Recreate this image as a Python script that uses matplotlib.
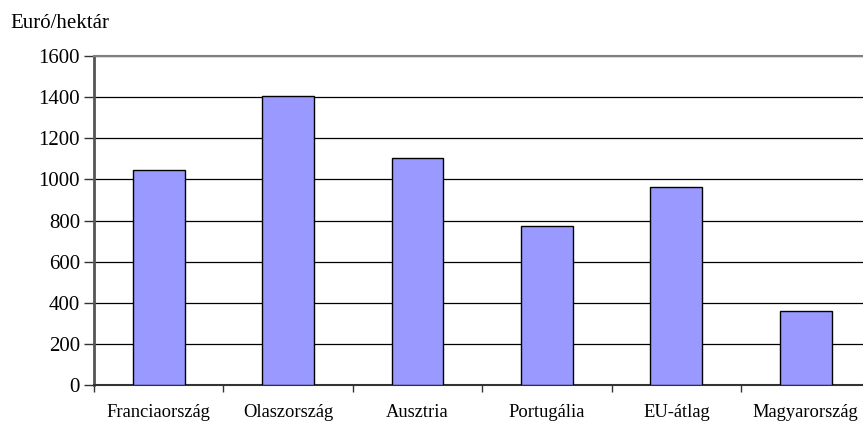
import matplotlib
matplotlib.use("Agg")
import matplotlib.pyplot as plt
import numpy as np

categories = ["Franciaország", "Olaszország", "Ausztria", "Portugália", "EU-átlag", "Magyarország"]
values = [1045, 1405, 1105, 772, 962, 362]
yticks = [0, 200, 400, 600, 800, 1000, 1200, 1400, 1600]
ylabel = "Euró/hektár"

plt.rcParams['font.family'] = ['Liberation Serif', 'DejaVu Serif']

W, H = 863, 421
fig = plt.figure(figsize=(W / 100, H / 100), dpi=100)
left, bottom, top = 94, 385, 56
cat_w = 129.4
ax = fig.add_axes([left / W, (H - bottom) / H, 6 * cat_w / W, (bottom - top) / H])

x = np.arange(len(categories))
ax.bar(x, values, width=0.4, color="#9999FF", edgecolor="black", linewidth=1, zorder=3)

ax.set_xlim(-0.5, 5.5)
ax.set_ylim(0, 1600)
ax.set_yticks(yticks)
ax.set_yticklabels([str(t) for t in yticks], fontsize=15)
ax.yaxis.grid(True, color="black", linewidth=0.9, zorder=0)
ax.set_axisbelow(True)

ax.set_xticks(np.arange(-0.5, 6.0, 1.0))
ax.set_xticklabels([])
ax.set_xticks(x, minor=True)
ax.set_xticklabels(categories, minor=True, fontsize=13.3)
ax.tick_params(axis='x', which='minor', length=0, pad=14)
ax.tick_params(axis='x', which='major', length=5, width=1, color="#333333")
ax.tick_params(axis='y', length=7, width=1, color="#333333", pad=3)

for s in ["right"]:
    ax.spines[s].set_visible(False)
ax.spines["top"].set_color("#808080")
ax.spines["top"].set_linewidth(1.5)
ax.spines["left"].set_color("#555555")
ax.spines["left"].set_linewidth(2)
ax.spines["bottom"].set_color("#333333")
ax.spines["bottom"].set_linewidth(1.5)

fig.text(10 / W, 1 - 23 / H, ylabel, fontsize=15, ha="left", va="center")

fig.savefig("out.png", dpi=100)
